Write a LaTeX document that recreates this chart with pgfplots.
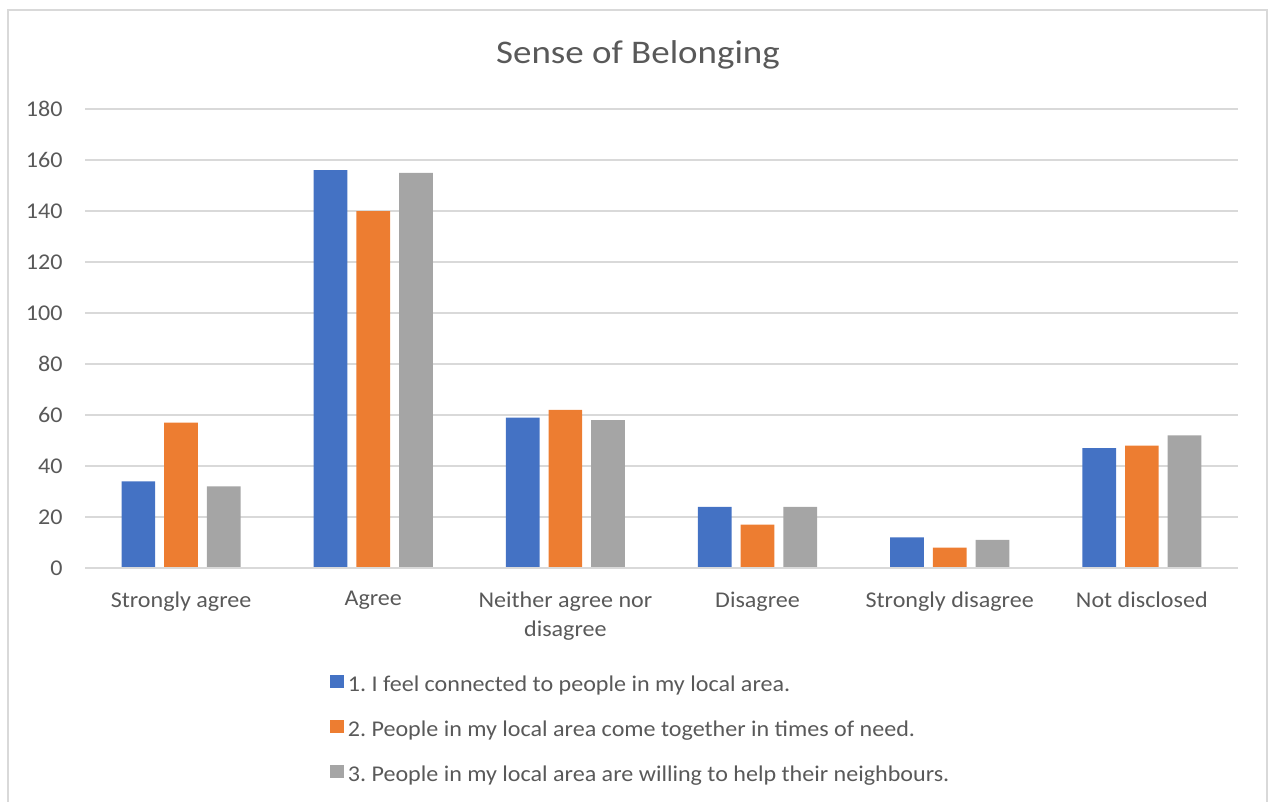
\documentclass[border=0pt]{standalone}
\usepackage{pgfplots}
\pgfplotsset{compat=1.18}
\usepackage{fontspec}
\setmainfont{Carlito}[FakeStretch=1.07]
\newfontfamily\titlefont{Carlito}[FakeStretch=1.12]
\definecolor{cblue}{HTML}{4472C4}
\definecolor{corange}{HTML}{ED7D31}
\definecolor{cgray}{HTML}{A5A5A5}
\definecolor{cgrid}{HTML}{D9D9D9}
\definecolor{txt}{HTML}{595959}
\frenchspacing
\begin{document}
\begin{tikzpicture}
\path[use as bounding box] (0pt,0pt) rectangle (1269pt,-801pt);
\draw[cgrid, line width=1.3pt] (8pt,-10pt) rectangle (1267pt,-830pt);
\node[anchor=base, text=txt, font=\titlefont\fontsize{33}{38}\selectfont, inner sep=0pt] at (638pt,-63pt) {Sense of Belonging};
\begin{axis}[
  at={(85pt,-568pt)}, anchor=south west,
  scale only axis, width=1153pt, height=459pt,
  ymin=0, ymax=180, ytick={0,20,...,180},
  xmin=-0.5, xmax=5.5, xtick={0,1,2,3,4,5},
  xticklabels={Strongly agree, Agree, {Neither agree nor\\disagree}, Disagree, Strongly disagree, Not disclosed},
  xticklabel style={align=center, font=\fontsize{22.5}{29}\selectfont, text=txt},
  yticklabel style={font=\fontsize{22.5}{29}\selectfont, text=txt},
  /pgf/number format/assume math mode=true,
  axis line style={draw=none},
  axis x line*=bottom,
  major tick length=0pt,
  ymajorgrids, xmajorgrids=false, grid style={cgrid, line width=1.5pt},
  xtick style={draw=none}, ytick style={draw=none},
  xticklabel shift=20pt, yticklabel shift=19pt,
  ybar=9pt, bar width=33.7pt,
  legend cell align=left,
  legend style={draw=none, fill=none, at={(0.2100,-0.2222)}, anchor=north west,
    font=\fontsize{22.5}{29}\selectfont, text=txt,
    nodes={inner sep=2pt, text height=17pt, text depth=6pt},
    row sep=18pt},
  legend image code/.code={\fill[#1] (0pt,-2.5pt) rectangle (13.4pt,10.9pt); \path (15.5pt,0pt);},
  clip=false,
]
\addplot[fill=cblue, draw=none] coordinates {(0,34) (1,156) (2,59) (3,24) (4,12) (5,47)};
\addplot[fill=corange, draw=none] coordinates {(0,57) (1,140) (2,62) (3,17) (4,8) (5,48)};
\addplot[fill=cgray, draw=none] coordinates {(0,32) (1,155) (2,58) (3,24) (4,11) (5,52)};
\draw[cgrid, line width=1.5pt] (axis cs:-0.5,0) -- (axis cs:5.5,0);
\legend{1. I feel connected to people in my local area., 2. People in my local area come together in times of need., 3. People in my local area are willing to help their neighbours.}
\end{axis}
\end{tikzpicture}
\end{document}
